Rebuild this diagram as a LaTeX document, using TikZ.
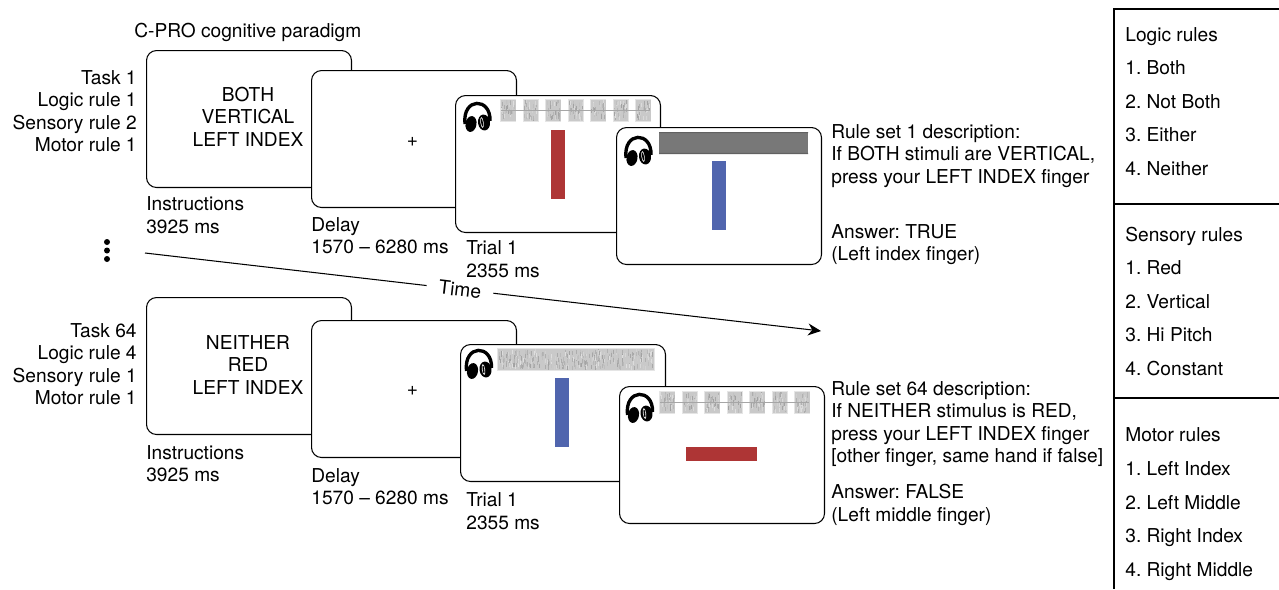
\documentclass[tikz,border=0pt]{standalone}
\usepackage{fontspec}
\setmainfont{TeX Gyre Heros}
\usetikzlibrary{arrows, arrows.meta, positioning, shapes}

\definecolor{barred}{HTML}{AE3535}
\definecolor{barblue}{HTML}{5065AE}

\tikzset{
  slide/.style    = {draw, rectangle, rounded corners=0.2cm, fill=white, line width=0.6pt, anchor=north west, minimum width=4.1cm, minimum height=2.74cm, inner sep=0pt},
  txt/.style      = {draw=none, inner sep=0pt, align=left, anchor=north west, font=\fontsize{10.9}{12.75}\selectfont},
  rightlbl/.style = {txt, align=right, anchor=north east},
  midlbl/.style   = {txt, align=center, anchor=center},
  rulelbl/.style  = {txt, anchor=west, text height=8pt, text depth=2.5pt, yshift=-0.04cm},
  bar/.style      = {draw=none, rectangle, anchor=north west, inner sep=0pt},
  phones/.pic     = {
    \draw [line width=1.9pt] (-12.5,7) .. controls (-15.5,-20) and (13.5,-20) .. (12.5,4);
    \fill [rotate around={-10:(-6.5,7)}] (-6.5,7) ellipse (5.5 and 8);
    \fill [rotate around={8:(6.5,5.5)}] (6.5,5.5) ellipse (6 and 8);
    \fill [white, rotate around={8:(4.5,5.5)}] (4.5,5.5) ellipse (1.6 and 5.5);
    \fill [rotate around={8:(4.5,5.5)}] (4.5,5.5) ellipse (0.9 and 4.2);
  }
}

% grey sound texture: x, y, width, height
\newcommand{\noisepatch}[4]{
  \fill [gray!20] (#1-0.8,#2-0.8) rectangle ++(#3+1.6,#4+1.6);
  \fill [gray!42] (#1,#2) rectangle ++(#3,#4);
  \pgfmathtruncatemacro{\nstrokes}{int(#3*2.4)}
  \foreach \i in {1,...,\nstrokes} {
    \pgfmathsetmacro{\sx}{#1+0.5+rnd*(#3-1)}
    \pgfmathsetmacro{\sy}{#2+rnd*(#4-4)}
    \pgfmathsetmacro{\sg}{int(25+rnd*50)}
    \draw [gray!\sg, line width=0.5pt] (\sx,\sy) -- ++(0,4);
  }
}
% seven short tones with a thin line through them
\newcommand{\tonepatch}[2]{
  \foreach \k in {0,...,6} {
    \noisepatch{#1+\k*22.5}{#2}{14.5}{21}
  }
  \draw [gray!70, line width=0.4pt] (#1,#2+10.5) -- ++(149,0);
}

\begin{document}
\frenchspacing
\begin{tikzpicture}[x=0.02cm, y=-0.02cm]
\pgfmathsetseed{4242}

\useasboundingbox (0,0) rectangle (1279,589);

\node [txt] (title) at (134,23) {C-PRO cognitive paradigm};

% first row
\node [rightlbl] (rules1) at (137,70) {Task 1\\Logic rule 1\\Sensory rule 2\\Motor rule 1};

\node [slide] (instr1) at (146,50)  {};
\node [slide] (delay1) at (311,70)  {};
\node [slide] (trial1) at (455,95)  {};
\node [slide] (trial2) at (616,127) {};

\node [midlbl] (instr1txt) at (248,116.5) {BOTH\\VERTICAL\\LEFT INDEX};
\node [midlbl] (delay1txt) at (412.5,142) {+};

\node [txt, below=0.17cm of instr1.south west, anchor=north west] (instr1lbl) {Instructions\\3925 ms};
\node [txt, below=0.18cm of delay1.south west, anchor=north west] (delay1lbl) {Delay\\1570 -- 6280 ms};
\node [txt] (trial1lbl) at (466,240.5) {Trial 1\\2355 ms};

\pic at (477.5,117) {phones};
\tonepatch{501}{100}
\node [bar, fill=barred, minimum width=0.28cm, minimum height=1.38cm] (bar1) at (551,130) {};

\pic at (638.5,151) {phones};
\fill [black!53] (659,132) rectangle (808,154);
\fill [black!62] (659,132) rectangle (808,133.2) (659,152.8) rectangle (808,154);
\node [bar, fill=barblue, minimum width=0.28cm, minimum height=1.38cm] (bar2) at (712,161) {};

\node [txt] (desc1) at (831,124) {Rule set 1 description:\\If BOTH stimuli are VERTICAL,\\press your LEFT INDEX finger};
\node [txt] (ans1)  at (831,224) {Answer: TRUE\\(Left index finger)};

% dots and time axis
\fill (107,242) circle (3) (107,250.5) circle (3) (107,259) circle (3);

\coordinate (timestart) at (145,253);
\coordinate (timeend)   at (821,331);
\node [midlbl, rotate=-6.6, inner xsep=0.24cm, inner ysep=0pt] (timelbl) at (460,289.4) {Time};
\draw [line width=0.6pt] (timestart) -- (timelbl);
\draw [-{Stealth[length=0.26cm, width=0.24cm]}, line width=0.6pt] (timelbl) -- (timeend);

% second row
\node [rightlbl] (rules2) at (137,323) {Task 64\\Logic rule 4\\Sensory rule 1\\Motor rule 1};

\node [slide] (instr2) at (146,297) {};
\node [slide] (delay2) at (311,320) {};
\node [slide] (trial3) at (460,344) {};
\node [slide] (trial4) at (619,386) {};

\node [midlbl] (instr2txt) at (248,365) {NEITHER\\RED\\LEFT INDEX};
\node [midlbl] (delay2txt) at (412.5,391) {+};

\node [txt, below=0.2cm of instr2.south west, anchor=north west] (instr2lbl) {Instructions\\3925 ms};
\node [txt, below=0.2cm of delay2.south west, anchor=north west] (delay2lbl) {Delay\\1570 -- 6280 ms};
\node [txt] (trial3lbl) at (466,492.5) {Trial 1\\2355 ms};

\pic at (479,364) {phones};
\noisepatch{498}{349}{156}{21}
\node [bar, fill=barblue, minimum width=0.28cm, minimum height=1.38cm] (bar3) at (555,378) {};

\pic at (640,408) {phones};
\tonepatch{660}{392}
\node [bar, fill=barred, minimum width=1.42cm, minimum height=0.28cm] (bar4) at (686,447) {};

\node [txt] (desc2) at (831,381) {Rule set 64 description:\\If NEITHER stimulus is RED,\\press your LEFT INDEX finger\\{[other finger, same hand if false]}};
\node [txt] (ans2)  at (831,484) {Answer: FALSE\\(Left middle finger)};

% rule table
\draw [line width=0.7pt] (1279,9) -- (1114,9) -- (1114,589);
\draw [line width=1.1pt] (1114,204) -- (1279,204);
\draw [line width=0.7pt] (1114,398) -- (1279,398);

\foreach \name/\ypos in {Logic rules/35, 1. Both/68, 2. Not Both/102, 3. Either/135, 4. Neither/169,
                         Sensory rules/235, 1. Red/268, 2. Vertical/302, 3. Hi Pitch/335, 4. Constant/369,
                         Motor rules/435, 1. Left Index/469, 2. Left Middle/503, 3. Right Index/536, 4. Right Middle/570} {
  \node [rulelbl] (rule\ypos) at (1125,\ypos) {\name};
}

\end{tikzpicture}
\end{document}
